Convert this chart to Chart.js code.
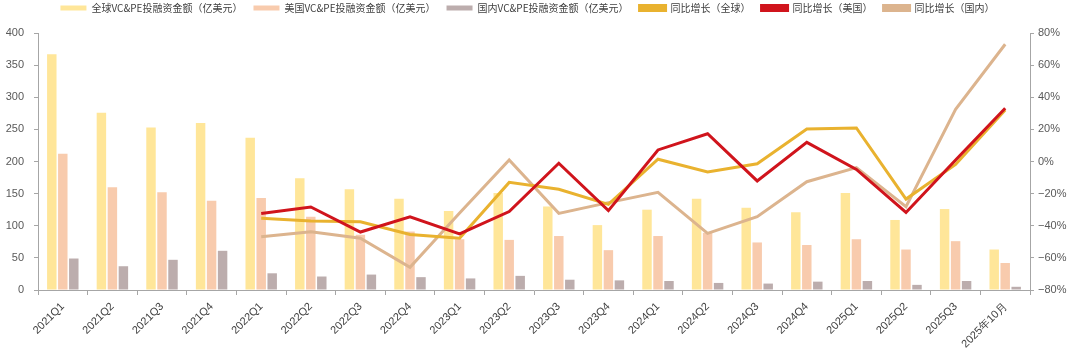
<!DOCTYPE html>
<html>
<head>
<meta charset="utf-8">
<script src="https://cdn.jsdelivr.net/npm/chart.js@4"></script>
<style>
  html, body { margin: 0; padding: 0; background: #fff; }
  #wrap { width: 1069px; height: 352px; }
</style>
</head>
<body>
<div id="wrap"><canvas id="chart" width="1069" height="352"></canvas></div>
<script>
'use strict';

/* Data */
const categories = ['2021Q1', '2021Q2', '2021Q3', '2021Q4', '2022Q1', '2022Q2', '2022Q3', '2022Q4',
  '2023Q1', '2023Q2', '2023Q3', '2023Q4', '2024Q1', '2024Q2', '2024Q3', '2024Q4',
  '2025Q1', '2025Q2', '2025Q3', '2025年10月'];

const globalAmount = [367, 276, 253, 260, 237, 174, 157, 142, 123, 151, 130, 101, 125, 142, 128, 121, 151, 109, 126, 63];
const usAmount = [212, 160, 152, 139, 143, 114, 86, 91, 79, 78, 84, 62, 84, 89, 74, 70, 79, 63, 76, 42];
const domesticAmount = [49, 37, 47, 61, 26, 21, 24, 20, 18, 22, 16, 15, 14, 11, 10, 13, 14, 8, 14, 5];

const globalYoY = [null, null, null, null, -35.4, -37, -37.5, -45.4, -47.8, -13, -17.3, -26.7, 1.4, -6.5, -1.4, 20.2, 20.9, -23.4, -1.8, 32];
const usYoY = [null, null, null, null, -32.4, -28.3, -43.9, -34.4, -45.1, -31.2, -1.1, -30.6, 7.2, 17.3, -12.1, 11.9, -4.9, -31.7, 0.9, 33.1];
const domesticYoY = [null, null, null, null, -46.8, -43.7, -47.8, -65.9, -32, 0.9, -32.3, -25.6, -19.2, -44.7, -34.4, -12.6, -3.8, -28.1, 32.5, 73];

/* Styles */
const AXIS_COLOR = '#a6a6a6';
const TICK_COLOR = '#595959';
const TICK_FONT = { family: 'Liberation Sans, Arial, sans-serif', size: 11 };
const PLOT_TOP = 33;      // legend box height = top of plot area
const LEGEND_SHIFT_Y = -8; // pull legend row up toward the top edge
const LEGEND_SHIFT_X = -7;

function barSet(label, data, color) {
  return {
    type: 'bar', label, data,
    backgroundColor: color, borderWidth: 0,
    categoryPercentage: 0.665, barPercentage: 0.86,
    yAxisID: 'y', order: 0,
  };
}

function lineSet(label, data, color, order) {
  return {
    type: 'line', label, data,
    borderColor: color, backgroundColor: color, borderWidth: 3,
    pointRadius: 0, tension: 0, spanGaps: false,
    yAxisID: 'y1', order,
  };
}

/* Fix legend height and nudge its row */
const legendPlacer = {
  id: 'legendPlacer',
  beforeInit(chart) {
    const legend = chart.legend;
    if (!legend) return;
    const fit = legend.fit;
    legend.fit = function () {
      fit.call(this);
      this.height = PLOT_TOP;
    };
  },
  afterLayout(chart) {
    const legend = chart.legend;
    if (!legend) return;
    legend.top += LEGEND_SHIFT_Y;
    legend.bottom += LEGEND_SHIFT_Y;
    legend.left += LEGEND_SHIFT_X;
    legend.right += LEGEND_SHIFT_X;
  },
};

const ctx = document.getElementById('chart').getContext('2d');
new Chart(ctx, {
  data: {
    labels: categories,
    datasets: [
      barSet('全球VC&PE投融资金额（亿美元）', globalAmount, '#ffe699'),
      barSet('美国VC&PE投融资金额（亿美元）', usAmount, '#f8cbad'),
      barSet('国内VC&PE投融资金额（亿美元）', domesticAmount, '#bcadad'),
      lineSet('同比增长（全球）', globalYoY, '#e9b22f', -2),
      lineSet('同比增长（美国）', usYoY, '#d0141c', -3),
      lineSet('同比增长（国内）', domesticYoY, '#dcb48e', -1),
    ],
  },
  plugins: [legendPlacer],
  options: {
    responsive: false,
    animation: false,
    layout: { padding: 0 },
    plugins: {
      tooltip: { enabled: false },
      legend: {
        position: 'top',
        labels: {
          boxWidth: 26,
          boxHeight: 5,
          padding: 11,
          color: '#404040',
          font: { family: 'Noto Sans CJK SC', size: 10 },
          sort: (a, b) => a.datasetIndex - b.datasetIndex,
        },
      },
    },
    scales: {
      x: {
        offset: true,
        grid: { display: true, drawOnChartArea: false, color: AXIS_COLOR, tickLength: 5, offset: true },
        border: { color: AXIS_COLOR },
        ticks: { color: '#404040', font: TICK_FONT, maxRotation: 45, minRotation: 45, autoSkip: false, padding: 5 },
        afterFit: (scale) => { scale.height = 62; },
      },
      y: {
        position: 'left', min: 0, max: 400,
        grid: { drawOnChartArea: false, color: AXIS_COLOR, tickLength: 4 },
        border: { color: AXIS_COLOR },
        ticks: { stepSize: 50, color: TICK_COLOR, font: TICK_FONT, padding: 10 },
        afterFit: (scale) => { scale.width = 38; },
      },
      y1: {
        position: 'right', min: -80, max: 80,
        grid: { drawOnChartArea: false, color: AXIS_COLOR, tickLength: 4 },
        border: { color: AXIS_COLOR },
        ticks: {
          stepSize: 20, color: TICK_COLOR, font: TICK_FONT, padding: 4,
          callback: (v) => (v < 0 ? '\u2212' + Math.abs(v) : v) + '%',
        },
        afterFit: (scale) => { scale.width = 39; },
      },
    },
  },
});
</script>
</body>
</html>
